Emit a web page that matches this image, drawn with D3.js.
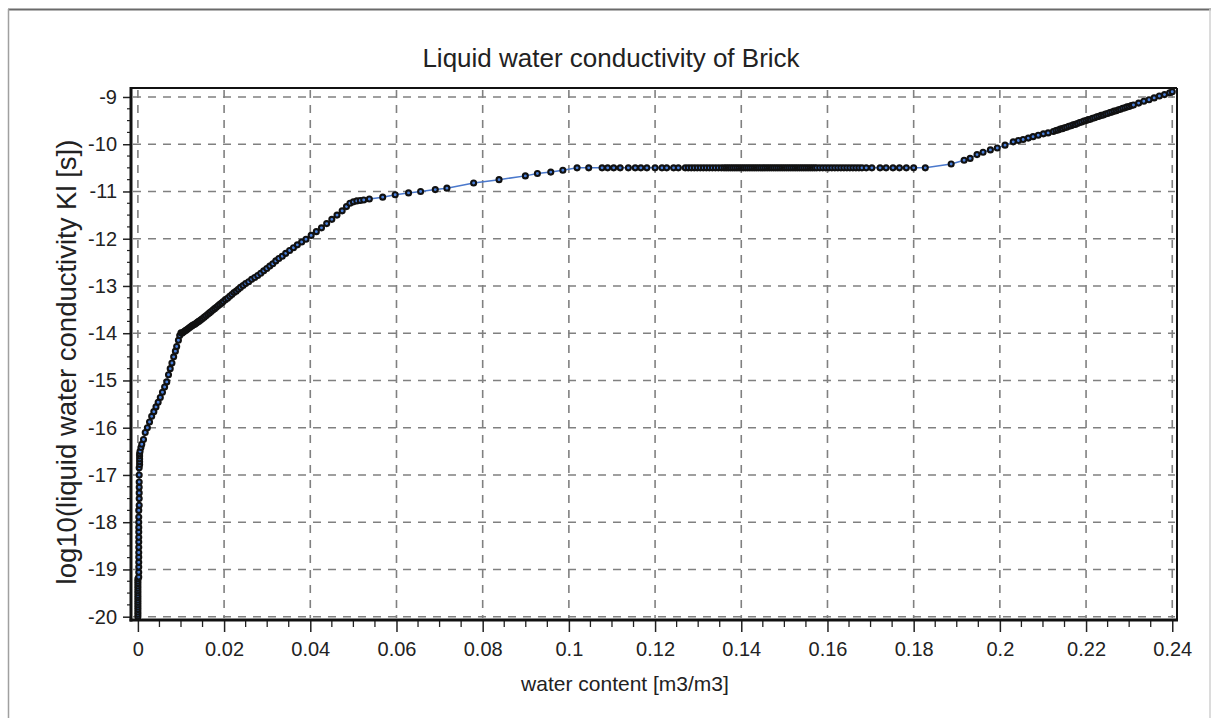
<!DOCTYPE html>
<html>
<head>
<meta charset="utf-8">
<script src="https://cdn.jsdelivr.net/npm/d3@7"></script>
<style>
html,body{margin:0;padding:0;background:#fff;}
svg{display:block;}
text{font-family:"Liberation Sans",Arial,sans-serif;fill:#222;}
</style>
</head>
<body>
<svg id="chart" width="1213" height="718"></svg>
<script>
// ---------- data ----------
const chartTitle = "Liquid water conductivity of Brick";
const xTitle = "water content [m3/m3]";
const yTitle = "log10(liquid water conductivity Kl [s])";

const xTickValues = [0,0.02,0.04,0.06,0.08,0.1,0.12,0.14,0.16,0.18,0.2,0.22,0.24];
const xTickLabels = ["0","0.02","0.04","0.06","0.08","0.1","0.12","0.14","0.16","0.18","0.2","0.22","0.24"];
const yTickValues = [-9,-10,-11,-12,-13,-14,-15,-16,-17,-18,-19,-20];
const yTickLabels = ["-9","-10","-11","-12","-13","-14","-15","-16","-17","-18","-19","-20"];

// near-dry branch (vertical at ~0)
const wcDry = [0,0,0,0,0,0,0,0,0,0,0,0,0,0,0,0,0,
  0.0002,0.0002,0.0002,0.0002,0.0002,0.0002,0.0002,0.0002,0.0002,0.0002,0.0002,0.0002,0.0002,0.0002,
  0.0003,0.0003,0.0003,0.0003,0.0003,0.0003,0.0003,0.0004,0.0004,0.0004,0.0004,0.0004,0.0005];
const lkDry = [-20.0,-19.95,-19.9,-19.85,-19.8,-19.75,-19.7,-19.65,-19.6,-19.55,-19.5,-19.45,-19.4,-19.35,-19.3,-19.25,-19.2,
  -19.16,-19.06,-18.95,-18.85,-18.74,-18.64,-18.53,-18.42,-18.32,-18.21,-18.11,-18.0,-17.89,-17.75,
  -17.64,-17.5,-17.38,-17.26,-17.15,-17.0,-16.85,-16.78,-16.72,-16.66,-16.6,-16.55,-16.5];

// steep branch up to -14
const wcSteep = [0.0007,0.0009,0.0013,0.0017,0.0022,0.0027,0.0032,0.0037,0.0042,0.0047,0.0052,0.0057,0.0062,0.0067,
  0.0071,0.0075,0.0079,0.0083,0.0087,0.0090,0.0094,0.0097,0.0100];
const lkSteep = [-16.42,-16.35,-16.25,-16.1,-16.0,-15.88,-15.76,-15.66,-15.56,-15.46,-15.36,-15.25,-15.14,-15.03,
  -14.88,-14.75,-14.63,-14.5,-14.38,-14.28,-14.15,-14.05,-13.99];

// middle branch -14 to -10.5
const wcMid = [0.0102,0.0105,0.0108,0.0111,0.0114,0.0117,0.0120,0.0123,0.0126,0.0129,0.0132,0.0135,0.0138,0.0141,0.0144,
  0.0147,0.0150,0.0154,0.0158,0.0162,0.0166,0.0170,0.0174,0.0178,0.0182,0.0186,0.0190,0.0194,0.0198,
  0.0203,0.0208,0.0213,0.0218,0.0223,0.0228,0.0233,0.0238,0.0244,0.0250,0.0257,0.0264,0.0271,0.0278,
  0.0285,0.0292,0.0299,0.0306,0.0313,0.0320,0.0327,0.0335,0.0343,0.0352,0.0361,0.0370,0.0380,0.0390,
  0.0402,0.0414,0.0426,0.0438,0.0450,0.0462,0.0474,0.0484,0.0492,0.0500,0.0508,0.0516,0.0524,0.0537,
  0.0568,0.0597,0.0628,0.0656,0.0690,0.0717,0.0779,0.0838,0.0899,0.0927,0.0958,0.0986,0.1019,0.1046];
const lkMid = [-14.00,-13.98,-13.96,-13.94,-13.92,-13.90,-13.88,-13.86,-13.84,-13.82,-13.81,-13.79,-13.77,-13.75,-13.73,
  -13.71,-13.69,-13.66,-13.63,-13.60,-13.57,-13.54,-13.51,-13.48,-13.45,-13.42,-13.39,-13.36,-13.33,
  -13.29,-13.26,-13.22,-13.18,-13.14,-13.11,-13.07,-13.03,-12.99,-12.95,-12.91,-12.86,-12.82,-12.78,
  -12.73,-12.68,-12.63,-12.58,-12.53,-12.47,-12.42,-12.37,-12.31,-12.25,-12.19,-12.13,-12.07,-12.01,
  -11.93,-11.85,-11.77,-11.68,-11.59,-11.50,-11.41,-11.32,-11.25,-11.22,-11.20,-11.19,-11.18,-11.16,
  -11.12,-11.07,-11.03,-11.00,-10.96,-10.93,-10.82,-10.75,-10.67,-10.62,-10.59,-10.55,-10.50,-10.50];

// plateau at -10.5
const wcPlateau = [0.1077,0.1090,0.1104,0.1119,0.1138,0.1154,0.1167,0.1181,0.1200,0.1216,0.1227,0.1243,0.1254,
  0.1270,0.1277,0.1284,0.1291,0.1298,0.1305,0.1312,0.1319,0.1326,0.1333,0.1340,0.1347,0.1354,0.1360,
  0.1365,0.1370,0.1375,0.1380,0.1385,0.1390,0.1395,0.1400,0.1405,0.1410,0.1415,0.1420,0.1425,0.1430,
  0.1435,0.1440,0.1445,0.1450,0.1455,0.1460,0.1465,0.1470,0.1475,0.1480,0.1485,0.1490,0.1495,0.1500,
  0.1505,0.1510,0.1515,0.1520,0.1525,0.1530,0.1535,0.1540,0.1545,0.1550,0.1555,0.1560,0.1565,0.1570,0.1575,
  0.1582,0.1589,0.1596,0.1603,0.1610,0.1617,0.1624,0.1631,0.1638,0.1645,0.1652,0.1659,0.1666,0.1673,0.1680,0.1690,
  0.1703,0.1722,0.1736,0.1752,0.1767,0.1783,0.1800,0.1827];
const lkPlateau = wcPlateau.map(() => -10.5);

// wet branch up to 0.24
const wcWet = [0.1887,0.1917,0.1931,0.1947,0.1961,0.1978,0.1994,0.2012,0.2031,0.2043,0.2054,0.2066,0.2077,0.2089,0.2101,0.2112,0.2124,
  0.2130,0.2135,0.2140,0.2145,0.2150,0.2155,0.2160,0.2165,0.2170,0.2175,0.2180,0.2185,0.2190,0.2195,0.2200,
  0.2205,0.2210,0.2215,0.2220,0.2225,0.2230,0.2235,0.2240,0.2245,0.2250,0.2255,0.2260,0.2265,0.2270,0.2275,
  0.2280,0.2285,0.2290,0.2295,0.2300,0.2305,0.2310,
  0.2322,0.2334,0.2346,0.2358,0.2370,0.2382,0.2394,0.2400];
const lkWet = [-10.42,-10.34,-10.30,-10.22,-10.17,-10.12,-10.08,-10.02,-9.95,-9.92,-9.90,-9.87,-9.84,-9.81,-9.78,-9.76,-9.73,
  -9.71,-9.70,-9.68,-9.67,-9.65,-9.64,-9.62,-9.61,-9.59,-9.58,-9.56,-9.54,-9.53,-9.51,-9.50,
  -9.48,-9.47,-9.45,-9.44,-9.42,-9.41,-9.39,-9.38,-9.36,-9.35,-9.33,-9.32,-9.30,-9.29,-9.27,
  -9.26,-9.24,-9.23,-9.21,-9.20,-9.18,-9.17,
  -9.13,-9.09,-9.06,-9.02,-8.98,-8.95,-8.91,-8.89];

const waterContent = [].concat(wcDry, wcSteep, wcMid, wcPlateau, wcWet);
const logConductivity = [].concat(lkDry, lkSteep, lkMid, lkPlateau, lkWet);
const points = waterContent.map((w, i) => ({x: w, y: logConductivity[i]}));

// ---------- layout ----------
const svg = d3.select("#chart");
const L = 131, R = 1177, T = 88, B = 620;
const x = d3.scaleLinear().domain([-0.0016, 0.2411]).range([L, R]);
const y = d3.scaleLinear().domain([-20.07, -8.81]).range([B, T]);

// outer frame
svg.append("line").attr("x1",8).attr("x2",1211).attr("y1",9.5).attr("y2",9.5).attr("stroke","#6a6a6a").attr("stroke-width",2);
svg.append("line").attr("x1",8.5).attr("x2",8.5).attr("y1",9).attr("y2",718).attr("stroke","#a0a0a0").attr("stroke-width",1.5);
svg.append("line").attr("x1",1210).attr("x2",1210).attr("y1",9).attr("y2",718).attr("stroke","#d0d0d0").attr("stroke-width",1.5);

// title
svg.append("text").attr("x",611).attr("y",67).attr("text-anchor","middle").style("font-size","26px").text(chartTitle);

// grid
const grid = svg.append("g").attr("stroke","#808080").attr("stroke-width",1.6).attr("stroke-dasharray","8,7");
grid.selectAll(".gx").data(xTickValues).join("line")
  .attr("x1",d=>x(d)).attr("x2",d=>x(d)).attr("y1",T+2).attr("y2",B-2);
grid.selectAll(".gy").data(yTickValues).join("line")
  .attr("y1",d=>y(d)).attr("y2",d=>y(d)).attr("x1",L+2).attr("x2",R-2);

// axes
const xMinor = d3.range(0, 0.2401, 0.005).filter(v => Math.abs(v/0.02 - Math.round(v/0.02)) > 1e-6);
const yMinor = d3.range(-20, -8.99, 0.25).filter(v => Math.abs(v - Math.round(v)) > 1e-6);

const xAxis = svg.append("g").attr("transform",`translate(0,${B})`)
  .call(d3.axisBottom(x).tickValues(xTickValues).tickFormat((d,i)=>xTickLabels[i]).tickSizeInner(12).tickSizeOuter(0).tickPadding(10));
xAxis.select(".domain").remove();
xAxis.selectAll("line").attr("stroke","#222").attr("stroke-width",1.5);
xAxis.selectAll("text").style("font-size","20px").attr("fill","#222").style("font-family","Liberation Sans, Arial, sans-serif");
svg.append("g").selectAll("line").data(xMinor).join("line")
  .attr("x1",d=>x(d)).attr("x2",d=>x(d)).attr("y1",B).attr("y2",B+7).attr("stroke","#222").attr("stroke-width",1.3);

const yAxis = svg.append("g").attr("transform",`translate(${L},0)`)
  .call(d3.axisLeft(y).tickValues(yTickValues).tickFormat((d,i)=>yTickLabels[i]).tickSizeInner(8).tickSizeOuter(0).tickPadding(6));
yAxis.select(".domain").remove();
yAxis.selectAll("line").attr("stroke","#222").attr("stroke-width",1.5);
yAxis.selectAll("text").style("font-size","20px").attr("fill","#222").style("font-family","Liberation Sans, Arial, sans-serif");
svg.append("g").selectAll("line").data(yMinor).join("line")
  .attr("y1",d=>y(d)).attr("y2",d=>y(d)).attr("x1",L-4).attr("x2",L).attr("stroke","#222").attr("stroke-width",1.2);

// axis titles
svg.append("text").attr("x",625).attr("y",691).attr("text-anchor","middle").style("font-size","21px").text(xTitle);
svg.append("text").attr("transform",`translate(76,362) rotate(-90)`).attr("text-anchor","middle").style("font-size","27.5px").text(yTitle);

// data line and markers
const line = d3.line().x(d=>x(d.x)).y(d=>y(d.y));
svg.append("path").datum(points).attr("d",line).attr("fill","none").attr("stroke","#4a78cc").attr("stroke-width",1.5);
svg.append("g").selectAll("circle").data(points).join("circle")
  .attr("cx",d=>x(d.x)).attr("cy",d=>y(d.y)).attr("r",2.5)
  .attr("fill","#4a80dc").attr("stroke","#111").attr("stroke-width",2.1);

// plot frame
svg.append("line").attr("x1",L).attr("x2",R).attr("y1",T).attr("y2",T).attr("stroke","#111").attr("stroke-width",2);
svg.append("line").attr("x1",R).attr("x2",R).attr("y1",T).attr("y2",B).attr("stroke","#111").attr("stroke-width",2);
svg.append("line").attr("x1",L).attr("x2",L).attr("y1",T-1).attr("y2",B+1.5).attr("stroke","#111").attr("stroke-width",3);
svg.append("line").attr("x1",L-1.5).attr("x2",R+1).attr("y1",B).attr("y2",B).attr("stroke","#111").attr("stroke-width",3);
</script>
</body>
</html>
